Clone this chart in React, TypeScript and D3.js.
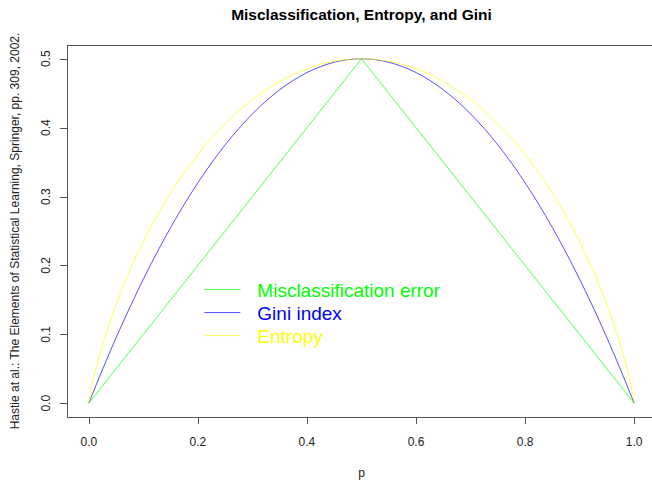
import * as d3 from "d3";

const pValues = [
  0, 0.005, 0.01, 0.02, 0.04, 0.06, 0.08, 0.1, 0.15, 0.2, 0.25, 0.3, 0.35, 0.4, 0.45, 0.5,
  0.55, 0.6, 0.65, 0.7, 0.75, 0.8, 0.85, 0.9, 0.92, 0.94, 0.96, 0.98, 0.99, 0.995, 1,
];
const misclassValues = [
  0, 0.005, 0.01, 0.02, 0.04, 0.06, 0.08, 0.1, 0.15, 0.2, 0.25, 0.3, 0.35, 0.4, 0.45, 0.5,
  0.45, 0.4, 0.35, 0.3, 0.25, 0.2, 0.15, 0.1, 0.08, 0.06, 0.04, 0.02, 0.01, 0.005, 0,
];
const giniValues = [
  0, 0.00995, 0.0198, 0.0392, 0.0768, 0.1128, 0.1472, 0.18, 0.255, 0.32, 0.375, 0.42, 0.455, 0.48, 0.495, 0.5,
  0.495, 0.48, 0.455, 0.42, 0.375, 0.32, 0.255, 0.18, 0.1472, 0.1128, 0.0768, 0.0392, 0.0198, 0.00995, 0,
];
const entropyValues = [
  0, 0.0227, 0.0404, 0.0707, 0.1211, 0.1637, 0.2011, 0.2345, 0.3049, 0.361, 0.4056, 0.4406, 0.467, 0.4855, 0.4964, 0.5,
  0.4964, 0.4855, 0.467, 0.4406, 0.4056, 0.361, 0.3049, 0.2345, 0.2011, 0.1637, 0.1211, 0.0707, 0.0404, 0.0227, 0,
];

const xTicks = [0, 0.2, 0.4, 0.6, 0.8, 1.0];
const yTicks = [0, 0.1, 0.2, 0.3, 0.4, 0.5];

const series = [
  { name: "Misclassification error", values: misclassValues, color: "#00ff00", smooth: false },
  { name: "Gini index", values: giniValues, color: "#0000ff", smooth: true },
  { name: "Entropy", values: entropyValues, color: "#ffff00", smooth: true },
];

const title = "Misclassification, Entropy, and Gini";
const xLabel = "p";
const yLabel = "Hastie at al.: The Elements of Statistical Learning, Springer, pp. 309, 2002.";

export default function App() {
  const width = 652;
  const height = 480;
  const plot = { left: 67, right: 656, top: 45, bottom: 417 };
  const font = "'Liberation Sans', Arial, Helvetica, sans-serif";

  const xScale = d3.scaleLinear().domain([-0.04, 1.04]).range([plot.left, plot.right]);
  const yScale = d3.scaleLinear().domain([-0.02, 0.52]).range([plot.bottom, plot.top]);

  const makeLine = (smooth: boolean) =>
    d3
      .line<number>()
      .x((_, i) => xScale(pValues[i]))
      .y((d) => yScale(d))
      .curve(smooth ? d3.curveMonotoneX : d3.curveLinear);

  const legendX = xScale(0.21);
  const legendY = yScale(0.165);
  const axisColor = "#555";

  return (
    <svg
      width={width}
      height={height}
      style={{ position: "absolute", left: 0, top: 0, background: "#fff" }}
      fontFamily={font}
    >
      <rect width={width} height={height} fill="#fff" />
      <text x={(plot.left + plot.right) / 2} y={20} textAnchor="middle" fontSize="15.5" fontWeight="bold" fill="#000">
        {title}
      </text>

      {series.map((s) => (
        <path
          key={s.name}
          d={makeLine(s.smooth)(s.values) ?? ""}
          fill="none"
          stroke={s.color}
          strokeWidth={0.8}
          strokeOpacity={0.85}
        />
      ))}

      <rect
        x={plot.left + 0.5}
        y={plot.top + 0.5}
        width={plot.right - plot.left}
        height={plot.bottom - plot.top}
        fill="none"
        stroke={axisColor}
        strokeWidth={1}
      />

      {xTicks.map((t) => (
        <g key={`x-${t}`}>
          <line
            x1={Math.round(xScale(t)) + 0.5}
            x2={Math.round(xScale(t)) + 0.5}
            y1={plot.bottom}
            y2={plot.bottom + 7}
            stroke={axisColor}
          />
          <text x={xScale(t)} y={446} textAnchor="middle" fontSize="12" fill="#222">
            {t.toFixed(1)}
          </text>
        </g>
      ))}

      {yTicks.map((t) => (
        <g key={`y-${t}`}>
          <line
            x1={plot.left - 7}
            x2={plot.left}
            y1={Math.round(yScale(t)) + 0.5}
            y2={Math.round(yScale(t)) + 0.5}
            stroke={axisColor}
          />
          <text
            x={50}
            y={yScale(t)}
            transform={`rotate(-90, 50, ${yScale(t)})`}
            textAnchor="middle"
            fontSize="12"
            fill="#222"
          >
            {t.toFixed(1)}
          </text>
        </g>
      ))}

      <text x={(plot.left + plot.right) / 2} y={477} textAnchor="middle" fontSize="12" fill="#222">
        {xLabel}
      </text>
      <text
        x={19}
        y={(plot.top + plot.bottom) / 2}
        transform={`rotate(-90, 19, ${(plot.top + plot.bottom) / 2})`}
        textAnchor="middle"
        fontSize="12"
        fill="#222"
      >
        {yLabel}
      </text>

      {series.map((s, i) => (
        <g key={`legend-${s.name}`} transform={`translate(${legendX + 1}, ${legendY + i * 23})`}>
          <line x1={0} x2={36} y1={0} y2={0} stroke={s.color} strokeWidth={0.8} strokeOpacity={0.85} />
          <text x={53} y={7} fontSize="19" fill={s.color}>
            {s.name}
          </text>
        </g>
      ))}
    </svg>
  );
}
